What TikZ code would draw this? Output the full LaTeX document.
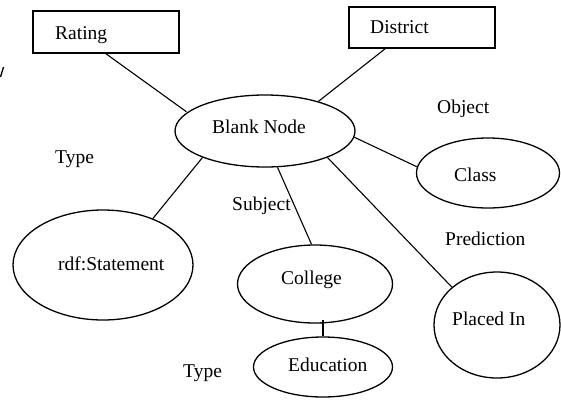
\documentclass[tikz,border=0pt]{standalone}
\usepackage{fontspec}
\setmainfont{Liberation Serif}
\usetikzlibrary{shapes.geometric,calc}
\begin{document}
\begin{tikzpicture}[x=1pt,y=-1pt,
  lbl/.style={font=\fontsize{19.5}{22}\selectfont, inner sep=0pt, anchor=base west},
  oval/.style={draw, ellipse, inner sep=0pt, line width=1.3pt},
  entity/.style={draw, rectangle, inner sep=0pt, line width=1.6pt},
  link/.style={line width=1.1pt}]
\useasboundingbox (0,0) rectangle (561,399);

% attribute boxes
\node[entity, minimum width=146pt, minimum height=42pt] (rating) at (106,32) {};
\node[entity, minimum width=146pt, minimum height=41pt] (district) at (422,27.5) {};

% resource ovals
\node[oval, minimum width=180pt, minimum height=72pt] (bn) at (265,131) {};
\node[oval, minimum width=180pt, minimum height=110pt] (rdf) at (103,265) {};
\node[oval, minimum width=143pt, minimum height=70pt] (class) at (488,173) {};
\node[oval, minimum width=155pt, minimum height=78pt] (college) at (315,284) {};
\node[oval, minimum width=139pt, minimum height=60pt] (edu) at (323,367) {};
\node[oval, minimum width=126pt, minimum height=106pt] (placed) at (497,325) {};

% texts
\node[lbl] (rating-t) at (55,39) {Rating};
\node[lbl] (district-t) at (370,33) {District};
\node[lbl] (object-t) at (437,113) {Object};
\node[lbl] (bn-t) at (212,133) {Blank Node};
\node[lbl] (type1-t) at (55,163) {Type};
\node[lbl] (rdf-t) at (58,270) {rdf:Statement};
\node[lbl] (subject-t) at (232,210) {Subject};
\node[lbl] (college-t) at (281,284) {College};
\node[lbl] (class-t) at (454,181) {Class};
\node[lbl] (pred-t) at (445,245) {Prediction};
\node[lbl] (placed-t) at (452,325) {Placed In};
\node[lbl] (edu-t) at (288,371) {Education};
\node[lbl] (type2-t) at (183,377) {Type};

% connectors
\coordinate (district-foot) at ($(district.south west)!0.25!(district.south east)$);
\draw[link] (rating.south) -- ($(bn.165)+(-3,1)$);
\draw[link] (district-foot) -- (bn.29);
\draw[link] (bn.-4) -- (class.175);
\draw[link] (bn.203.5) -- (rdf.43);
\draw[link] (bn.-71.6) -- (college.95.6);
\draw[link] (bn.-23) -- (placed.140);
\draw[link] (edu.north) -- ([yshift=4pt]edu.north |- college.south);

% small stroke at the left edge
\draw[line width=1.3pt] (3.5,67) -- (0.5,77);
\end{tikzpicture}
\end{document}
